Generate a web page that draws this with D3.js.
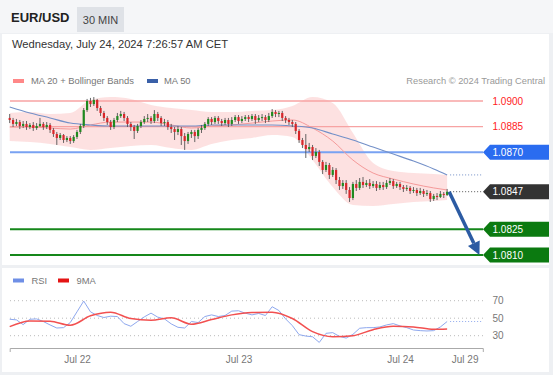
<!DOCTYPE html>
<html>
<head>
<meta charset="utf-8">
<script src="https://cdnjs.cloudflare.com/ajax/libs/d3/7.8.5/d3.min.js"></script>
<style>
  body { margin: 0; background: #fff; }
  svg { display: block; font-family: "Liberation Sans", Arial, sans-serif; }
</style>
</head>
<body>
<script>
// ---- data (30 min candles, Jul 19 14:00 -> Jul 24 07:00) ----
var firstOpen = 1.08901;
var closes = [
  1.08889,1.08866,1.08877,1.08854,1.08866,1.08848,1.08860,1.08842,1.08854,1.08866,
  1.08848,1.08860,1.08831,1.08807,1.08784,1.08801,1.08772,1.08784,1.08766,1.08790,
  1.08819,1.08854,1.08947,1.09000,1.08982,1.09006,1.08959,1.08930,1.08901,1.08877,
  1.08848,1.08889,1.08912,1.08924,1.08901,1.08866,1.08848,1.08825,1.08854,1.08877,
  1.08895,1.08901,1.08883,1.08924,1.08901,1.08871,1.08877,1.08848,1.08836,1.08819,
  1.08836,1.08795,1.08766,1.08807,1.08819,1.08795,1.08831,1.08842,1.08866,1.08895,
  1.08877,1.08901,1.08883,1.08871,1.08889,1.08866,1.08889,1.08906,1.08883,1.08895,
  1.08906,1.08895,1.08912,1.08889,1.08901,1.08906,1.08889,1.08912,1.08936,1.08924,
  1.08930,1.08901,1.08889,1.08877,1.08866,1.08825,1.08772,1.08743,1.08719,1.08731,
  1.08679,1.08702,1.08644,1.08597,1.08626,1.08568,1.08597,1.08538,1.08503,1.08521,
  1.08480,1.08433,1.08515,1.08492,1.08527,1.08509,1.08521,1.08503,1.08515,1.08492,
  1.08509,1.08497,1.08521,1.08532,1.08503,1.08515,1.08497,1.08486,1.08492,1.08474,
  1.08480,1.08462,1.08474,1.08457,1.08462,1.08427,1.08445,1.08439,1.08457,1.08451,
  1.0847];
var highs = [
  1.08924,1.08901,1.08895,1.08889,1.08883,1.08883,1.08871,1.08877,1.08871,1.08901,
  1.08877,1.08877,1.08871,1.08842,1.08819,1.08813,1.08807,1.08795,1.08795,1.08801,
  1.08831,1.08866,1.08959,1.09012,1.09018,1.09023,1.09012,1.08971,1.08942,1.08912,
  1.08889,1.08901,1.08930,1.08942,1.08936,1.08912,1.08877,1.08860,1.08866,1.08889,
  1.08912,1.08924,1.08912,1.08947,1.08936,1.08912,1.08895,1.08889,1.08866,1.08848,
  1.08854,1.08848,1.08813,1.08819,1.08831,1.08831,1.08842,1.08860,1.08877,1.08906,
  1.08906,1.08912,1.08912,1.08895,1.08901,1.08901,1.08906,1.08918,1.08918,1.08912,
  1.08918,1.08918,1.08924,1.08924,1.08918,1.08924,1.08918,1.08930,1.08953,1.08947,
  1.08942,1.08942,1.08912,1.08901,1.08889,1.08877,1.08836,1.08784,1.08807,1.08755,
  1.08743,1.08725,1.08714,1.08655,1.08644,1.08638,1.08614,1.08608,1.08556,1.08538,
  1.08538,1.08497,1.08527,1.08538,1.08550,1.08556,1.08538,1.08544,1.08532,1.08532,
  1.08527,1.08527,1.08538,1.08550,1.08544,1.08527,1.08527,1.08509,1.08509,1.08503,
  1.08497,1.08492,1.08492,1.08486,1.08480,1.08474,1.08457,1.08462,1.08474,1.08468,
  1.08486];
var lows = [
  1.08871,1.08848,1.08854,1.08836,1.08842,1.08831,1.08836,1.08825,1.08831,1.08848,
  1.08831,1.08836,1.08813,1.08790,1.08743,1.08772,1.08755,1.08760,1.08749,1.08755,
  1.08778,1.08807,1.08842,1.08936,1.08965,1.08971,1.08942,1.08912,1.08883,1.08860,
  1.08831,1.08836,1.08877,1.08901,1.08883,1.08848,1.08825,1.08778,1.08813,1.08842,
  1.08866,1.08877,1.08866,1.08871,1.08883,1.08854,1.08854,1.08831,1.08813,1.08772,
  1.08801,1.08743,1.08714,1.08749,1.08784,1.08760,1.08778,1.08813,1.08831,1.08854,
  1.08860,1.08866,1.08866,1.08854,1.08860,1.08848,1.08854,1.08877,1.08866,1.08871,
  1.08883,1.08877,1.08883,1.08866,1.08877,1.08883,1.08871,1.08877,1.08901,1.08906,
  1.08906,1.08883,1.08871,1.08860,1.08848,1.08807,1.08755,1.08725,1.08667,1.08702,
  1.08655,1.08667,1.08620,1.08573,1.08585,1.08544,1.08556,1.08515,1.08480,1.08486,
  1.08457,1.08410,1.08421,1.08474,1.08480,1.08492,1.08497,1.08486,1.08492,1.08474,
  1.08480,1.08480,1.08486,1.08509,1.08486,1.08492,1.08480,1.08468,1.08474,1.08457,
  1.08462,1.08445,1.08451,1.08439,1.08445,1.08410,1.08416,1.08421,1.08433,1.08433,
  1.08445];

// indicators at every 6th candle
var maIdx = [0,6,12,18,24,30,36,42,48,54,60,66,72,78,84,90,96,102,108,114,120,126,130];
var ma20 = [1.08848,1.08848,1.08842,1.08836,1.08860,1.08877,1.08877,1.08877,1.08860,1.08842,1.08854,1.08860,
            1.08871,1.08883,1.08889,1.08842,1.08766,1.08655,1.08579,1.08544,1.08515,1.08492,1.08480];
var bbUpper = [1.08930,1.08936,1.08924,1.08930,1.09006,1.09023,1.09012,1.08977,1.08959,1.08947,1.08936,1.08936,
               1.08942,1.08947,1.08971,1.09023,1.08988,1.08813,1.08638,1.08591,1.08579,1.08573,1.08568];
var bbLower = [1.08766,1.08760,1.08749,1.08731,1.08714,1.08725,1.08737,1.08743,1.08725,1.08714,1.08749,1.08772,
               1.08784,1.08801,1.08790,1.08655,1.08497,1.08392,1.08386,1.08398,1.08410,1.08416,1.08421];
var ma50 = [1.08965,1.08930,1.08901,1.08871,1.08860,1.08854,1.08854,1.08854,1.08854,1.08854,1.08860,1.08860,
            1.08860,1.08860,1.08854,1.08842,1.08807,1.08772,1.08731,1.08690,1.08649,1.08603,1.08568];

// RSI every 2nd candle, its 9MA every 6th
var rsi = [
  48.8,48.1,42.7,48.8,49.2,46.2,42.3,38.8,39.2,45.0,
  57.3,69.6,57.3,53.1,50.8,52.3,51.9,43.8,40.8,46.2,
  51.5,55.8,51.2,49.2,43.5,39.6,38.8,46.2,45.0,51.9,
  53.8,51.9,53.1,58.1,58.5,55.8,53.8,55.4,53.1,63.1,
  58.8,49.2,41.5,31.2,29.6,28.8,22.3,32.7,33.5,29.2,
  27.3,31.5,38.5,39.2,39.2,40.0,42.3,43.8,41.2,39.2,
  36.5,35.8,35.4,35.8,40.0,46.2];
var rsiMA = [40.4,46.9,46.5,41.9,52.7,56.9,49.6,47.7,50.4,43.1,48.5,53.8,56.5,56.9,49.6,34.6,28.8,30.0,36.9,40.8,40.0,37.3,37.7];

var resistances = [1.0900, 1.0885];
var pivot = 1.0870;
var supports = [1.0825, 1.0810];
var target = {i: 139.6, price: 1.0810};
var rsiLevels = [70, 50, 30];
var dayTicks = [20, 68, 116, 135.2];
var dayLabels = ["Jul 22", "Jul 23", "Jul 24", "Jul 29"];

// ---- layout ----
var W = 553, H = 375;
var svg = d3.select("body").append("svg").attr("width", W).attr("height", H);

svg.append("rect").attr("width", W).attr("height", H).attr("fill", "#eef0f3");
svg.append("rect").attr("width", W).attr("height", 33).attr("fill", "#f5f6f8");
svg.append("rect").attr("x", 2).attr("y", 34).attr("width", 547).attr("height", 231).attr("fill", "#fff");
svg.append("rect").attr("x", 2).attr("y", 268).attr("width", 547).attr("height", 104).attr("fill", "#fff");

// header
svg.append("text").attr("x", 11).attr("y", 22).text("EUR/USD")
  .attr("font-size", 13).attr("font-weight", "bold").attr("fill", "#222");
svg.append("rect").attr("x", 77).attr("y", 7).attr("width", 47).attr("height", 25).attr("fill", "#dfe2e7");
svg.append("text").attr("x", 100.5).attr("y", 23.5).attr("text-anchor", "middle").text("30 MIN")
  .attr("font-size", 11).attr("fill", "#444");
svg.append("text").attr("x", 12).attr("y", 48).text("Wednesday, July 24, 2024 7:26:57 AM CET")
  .attr("font-size", 11.2).attr("fill", "#333");

// legend
svg.append("rect").attr("x", 13).attr("y", 79).attr("width", 11).attr("height", 4).attr("fill", "#f88");
svg.append("text").attr("x", 31).attr("y", 84).text("MA 20 + Bollinger Bands").attr("font-size", 9.4).attr("fill", "#777");
svg.append("rect").attr("x", 147).attr("y", 79).attr("width", 11).attr("height", 4).attr("fill", "#3a60a8");
svg.append("text").attr("x", 164).attr("y", 84).text("MA 50").attr("font-size", 9.4).attr("fill", "#777");
svg.append("text").attr("x", 545).attr("y", 84).attr("text-anchor", "end").text("Research © 2024 Trading Central")
  .attr("font-size", 9.3).attr("fill", "#999");

// scales
var x = d3.scaleLinear().domain([0, 140.6]).range([9.7, 482.8]);
var y = d3.scaleLinear().domain([1.0810, 1.0900]).range([255, 101]);
var yr = d3.scaleLinear().domain([30, 70]).range([335.7, 300.7]);

// bollinger band
var band = d3.area().x(function (d, k) { return x(maIdx[k]); })
  .y0(function (d, k) { return y(bbLower[k]); })
  .y1(function (d, k) { return y(bbUpper[k]); })
  .curve(d3.curveMonotoneX);
svg.append("path").datum(maIdx).attr("d", band).attr("fill", "#fddede").attr("opacity", 0.9);

// level lines
resistances.forEach(function (p) {
  svg.append("line").attr("x1", 10).attr("x2", 483).attr("y1", y(p)).attr("y2", y(p))
    .attr("stroke", "#f7a3a3").attr("stroke-width", 1.3);
  svg.append("text").attr("x", 492.5).attr("y", y(p) + 3.6).text(p.toFixed(4))
    .attr("font-size", 10).attr("fill", "#f22");
});
svg.append("line").attr("x1", 10).attr("x2", 483).attr("y1", y(pivot)).attr("y2", y(pivot))
  .attr("stroke", "#79a2f2").attr("stroke-width", 2);
supports.forEach(function (p) {
  svg.append("line").attr("x1", 10).attr("x2", 483).attr("y1", y(p)).attr("y2", y(p))
    .attr("stroke", "#15871a").attr("stroke-width", 2);
});

// moving averages
var lineOf = function (vals) {
  return d3.line().x(function (d, k) { return x(maIdx[k]); }).y(function (d) { return y(d); })
    .curve(d3.curveMonotoneX)(vals);
};
svg.append("path").attr("d", lineOf(ma20)).attr("fill", "none").attr("stroke", "#f59a9a").attr("stroke-width", 1);
svg.append("path").attr("d", lineOf(ma50)).attr("fill", "none").attr("stroke", "#7390c8").attr("stroke-width", 1.1);

// candles
var candles = closes.map(function (c, i) {
  return {i: i, o: i ? closes[i - 1] : firstOpen, h: highs[i], l: lows[i], c: c};
});
var cg = svg.append("g");
cg.selectAll("line").data(candles).enter().append("line")
  .attr("x1", function (d) { return x(d.i); }).attr("x2", function (d) { return x(d.i); })
  .attr("y1", function (d) { return y(d.h); }).attr("y2", function (d) { return y(d.l); })
  .attr("stroke", "#555").attr("stroke-width", 0.9);
cg.selectAll("rect").data(candles).enter().append("rect")
  .attr("x", function (d) { return x(d.i) - 1.1; }).attr("width", 2.2)
  .attr("y", function (d) { return y(Math.max(d.o, d.c)); })
  .attr("height", function (d) { return Math.max(1, Math.abs(y(d.o) - y(d.c))); })
  .attr("fill", function (d) { return d.c >= d.o ? "#1f8a1f" : "#d8262a"; });

// dotted extensions
var last = candles[candles.length - 1];
svg.append("line").attr("x1", x(last.i) + 3).attr("x2", 483).attr("y1", y(last.c)).attr("y2", y(last.c))
  .attr("stroke", "#555").attr("stroke-dasharray", "1,2");
svg.append("line").attr("x1", x(last.i) + 3).attr("x2", 483)
  .attr("y1", y(ma50[ma50.length - 1])).attr("y2", y(ma50[ma50.length - 1]))
  .attr("stroke", "#7390c8").attr("stroke-dasharray", "1,2");

// forecast arrow
var ax0 = x(last.i) + 2, ay0 = y(last.c), ax1 = x(target.i), ay1 = y(target.price);
var dx = ax1 - ax0, dy = ay1 - ay0, len = Math.sqrt(dx * dx + dy * dy), ux = dx / len, uy = dy / len;
var hl = 13, hw = 6.5;
svg.append("line").attr("x1", ax0).attr("y1", ay0).attr("x2", ax1 - ux * hl).attr("y2", ay1 - uy * hl)
  .attr("stroke", "#2c5ba3").attr("stroke-width", 3.5);
svg.append("path").attr("fill", "#2c5ba3").attr("d",
  "M" + ax1 + "," + ay1 +
  "L" + (ax1 - ux * hl - uy * hw) + "," + (ay1 - uy * hl + ux * hw) +
  "L" + (ax1 - ux * hl + uy * hw) + "," + (ay1 - uy * hl - ux * hw) + "Z");

// price tags
function tag(p, fill) {
  var yy = y(p);
  svg.append("path").attr("fill", fill)
    .attr("d", "M483," + yy + "L490," + (yy - 7.5) + "L549," + (yy - 7.5) + "L549," + (yy + 7.5) + "L490," + (yy + 7.5) + "Z");
  svg.append("text").attr("x", 492.5).attr("y", yy + 3.6).text(p.toFixed(4)).attr("font-size", 10).attr("fill", "#fff");
}
tag(pivot, "#2a6cf0");
tag(last.c, "#333");
supports.forEach(function (p) { tag(p, "#0b7a10"); });

// ---- RSI panel ----
svg.append("rect").attr("x", 13).attr("y", 278.5).attr("width", 11).attr("height", 4).attr("fill", "#6f8fe6");
svg.append("text").attr("x", 31.5).attr("y", 283.5).text("RSI").attr("font-size", 9.4).attr("fill", "#777");
svg.append("rect").attr("x", 58).attr("y", 278.5).attr("width", 11).attr("height", 4).attr("fill", "#e41414");
svg.append("text").attr("x", 76.5).attr("y", 283.5).text("9MA").attr("font-size", 9.4).attr("fill", "#777");

rsiLevels.forEach(function (v) {
  svg.append("line").attr("x1", 10).attr("x2", 483).attr("y1", yr(v)).attr("y2", yr(v))
    .attr("stroke", "#bbb").attr("stroke-dasharray", "1,3");
  svg.append("text").attr("x", 492.5).attr("y", yr(v) + 3.6).text(v).attr("font-size", 10).attr("fill", "#777");
});

var rsiLine = d3.line().x(function (d, k) { return x(k * 2); }).y(function (d) { return yr(d); });
svg.append("path").attr("d", rsiLine(rsi)).attr("fill", "none").attr("stroke", "#8ea8ee").attr("stroke-width", 1);
svg.append("line").attr("x1", x(130) + 3).attr("x2", 483).attr("y1", yr(rsi[rsi.length - 1])).attr("y2", yr(rsi[rsi.length - 1]))
  .attr("stroke", "#8ea8ee").attr("stroke-dasharray", "1,2");

var maLine = d3.line().x(function (d, k) { return x(maIdx[k]); }).y(function (d) { return yr(d); })
  .curve(d3.curveMonotoneX);
svg.append("path").attr("d", maLine(rsiMA)).attr("fill", "none").attr("stroke", "#f25050").attr("stroke-width", 1.5);

// time axis
var xAxis = d3.axisBottom(x).tickValues(dayTicks)
  .tickFormat(function (d, k) { return dayLabels[k]; })
  .tickSizeInner(0).tickSizeOuter(4).tickPadding(8);
var gx = svg.append("g").attr("transform", "translate(0,348)").call(xAxis);
gx.select(".domain").attr("stroke", "#aaa");
gx.selectAll("text").attr("font-size", 10).attr("fill", "#777").attr("font-family", "Liberation Sans, Arial, sans-serif");
</script>
</body>
</html>
